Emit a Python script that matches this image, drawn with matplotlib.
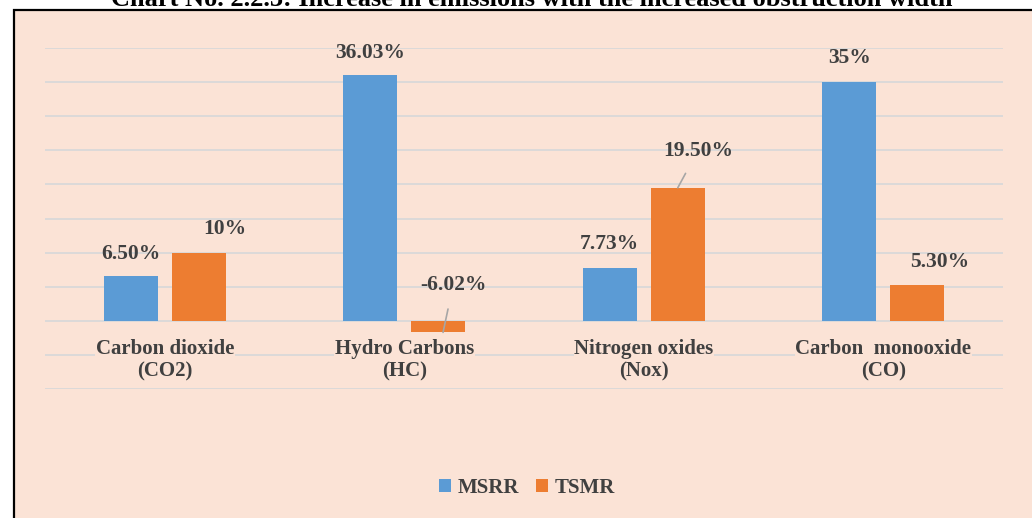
import matplotlib.pyplot as plt
import matplotlib.patches as patches
import numpy as np

# data
categories = ["Carbon dioxide\n(CO2)", "Hydro Carbons\n(HC)", "Nitrogen oxides\n(Nox)", "Carbon  monooxide\n(CO)"]
msrr = [6.50, 36.03, 7.73, 35.0]
tsmr = [10.0, -1.7, 19.50, 5.30]   # HC bar is drawn short in the original
msrr_labels = ["6.50%", "36.03%", "7.73%", "35%"]
tsmr_labels = ["10%", "-6.02%", "19.50%", "5.30%"]

BG = "#FBE3D6"
BLUE = "#5B9BD5"
ORANGE = "#ED7D31"
TXT = "#404040"
W, H = 1032, 518

plt.rcParams['font.family'] = ['Liberation Serif', 'DejaVu Serif']

fig = plt.figure(figsize=(W / 100, H / 100), dpi=100)
fig.patch.set_facecolor("white")

# chart area box (runs off the bottom/right like the screenshot)
fig.patches.append(patches.Rectangle((14 / W, -0.05), 1.1, 1 - 10 / H + 0.05,
                                     transform=fig.transFigure, facecolor=BG,
                                     edgecolor="black", linewidth=1.6, zorder=-5))

# title, mostly cut off at the top
fig.text(532 / W, 1 - 6 / H, "Chart No. 2.2.3: Increase in emissions with the increased obstruction width",
         ha="center", va="baseline", fontsize=19, fontweight="bold", color="black", zorder=-6)

ax = fig.add_axes([45 / W, 1 - 389 / H, 958 / W, 341 / H])
ax.patch.set_visible(False)
for s in ax.spines.values():
    s.set_visible(False)
ax.set_xlim(-0.5, 3.5)
ax.set_ylim(-10, 40)
ax.set_yticks(np.arange(-10, 41, 5))
ax.set_xticks([])
ax.tick_params(left=False, labelleft=False)
ax.yaxis.grid(True, color="#D9D9D9", linewidth=1.3)
ax.set_axisbelow(True)

x = np.arange(len(categories))
bw = 0.225
off = 0.142
b1 = ax.bar(x - off, msrr, bw, color=BLUE, label="MSRR", zorder=2)
b2 = ax.bar(x + off, tsmr, bw, color=ORANGE, label="TSMR", zorder=2)

lbl = dict(fontsize=15.5, fontweight="bold", color=TXT, ha="center", va="center")
# label offsets in pixels (dx, dy) from bar end
m_off = [(0, 22), (0, 22), (0, 24), (0, 24)]
t_off = [(26, 24), (10, 47), (20, 37), (22, 23)]
leader = dict(arrowstyle="-", color="#A6A6A6", lw=1.2, shrinkA=8, shrinkB=0)
for i, (r, s) in enumerate(zip(b1, msrr_labels)):
    ax.annotate(s, (r.get_x() + r.get_width() / 2, msrr[i]),
                xytext=(m_off[i][0] * 0.72, m_off[i][1] * 0.72), textcoords="offset points", **lbl)
for i, (r, s) in enumerate(zip(b2, tsmr_labels)):
    xc = r.get_x() + r.get_width() / 2
    ap = leader if i in (1, 2) else None
    if i == 1:
        xc += 0.02
    ax.annotate(s, (xc, tsmr[i]), xytext=(t_off[i][0] * 0.72, t_off[i][1] * 0.72),
                textcoords="offset points", arrowprops=ap, **lbl)

# category labels with background boxes breaking the gridlines
for xi, c in zip(x, categories):
    ax.text(xi, -5.8, c, ha="center", va="center", fontsize=15, fontweight="bold",
            color=TXT, linespacing=1.15, zorder=3,
            bbox=dict(facecolor=BG, edgecolor="none", pad=0.5))

fig.legend(handles=[b1, b2], labels=["MSRR", "TSMR"], loc="center",
           bbox_to_anchor=(527 / W, 1 - 488 / H), ncol=2, frameon=False,
           handlelength=0.6, handleheight=0.6, handletextpad=0.3, columnspacing=0.8,
           prop=dict(size=15, weight="bold"), labelcolor=TXT)

fig.savefig("out.png", dpi=100)
